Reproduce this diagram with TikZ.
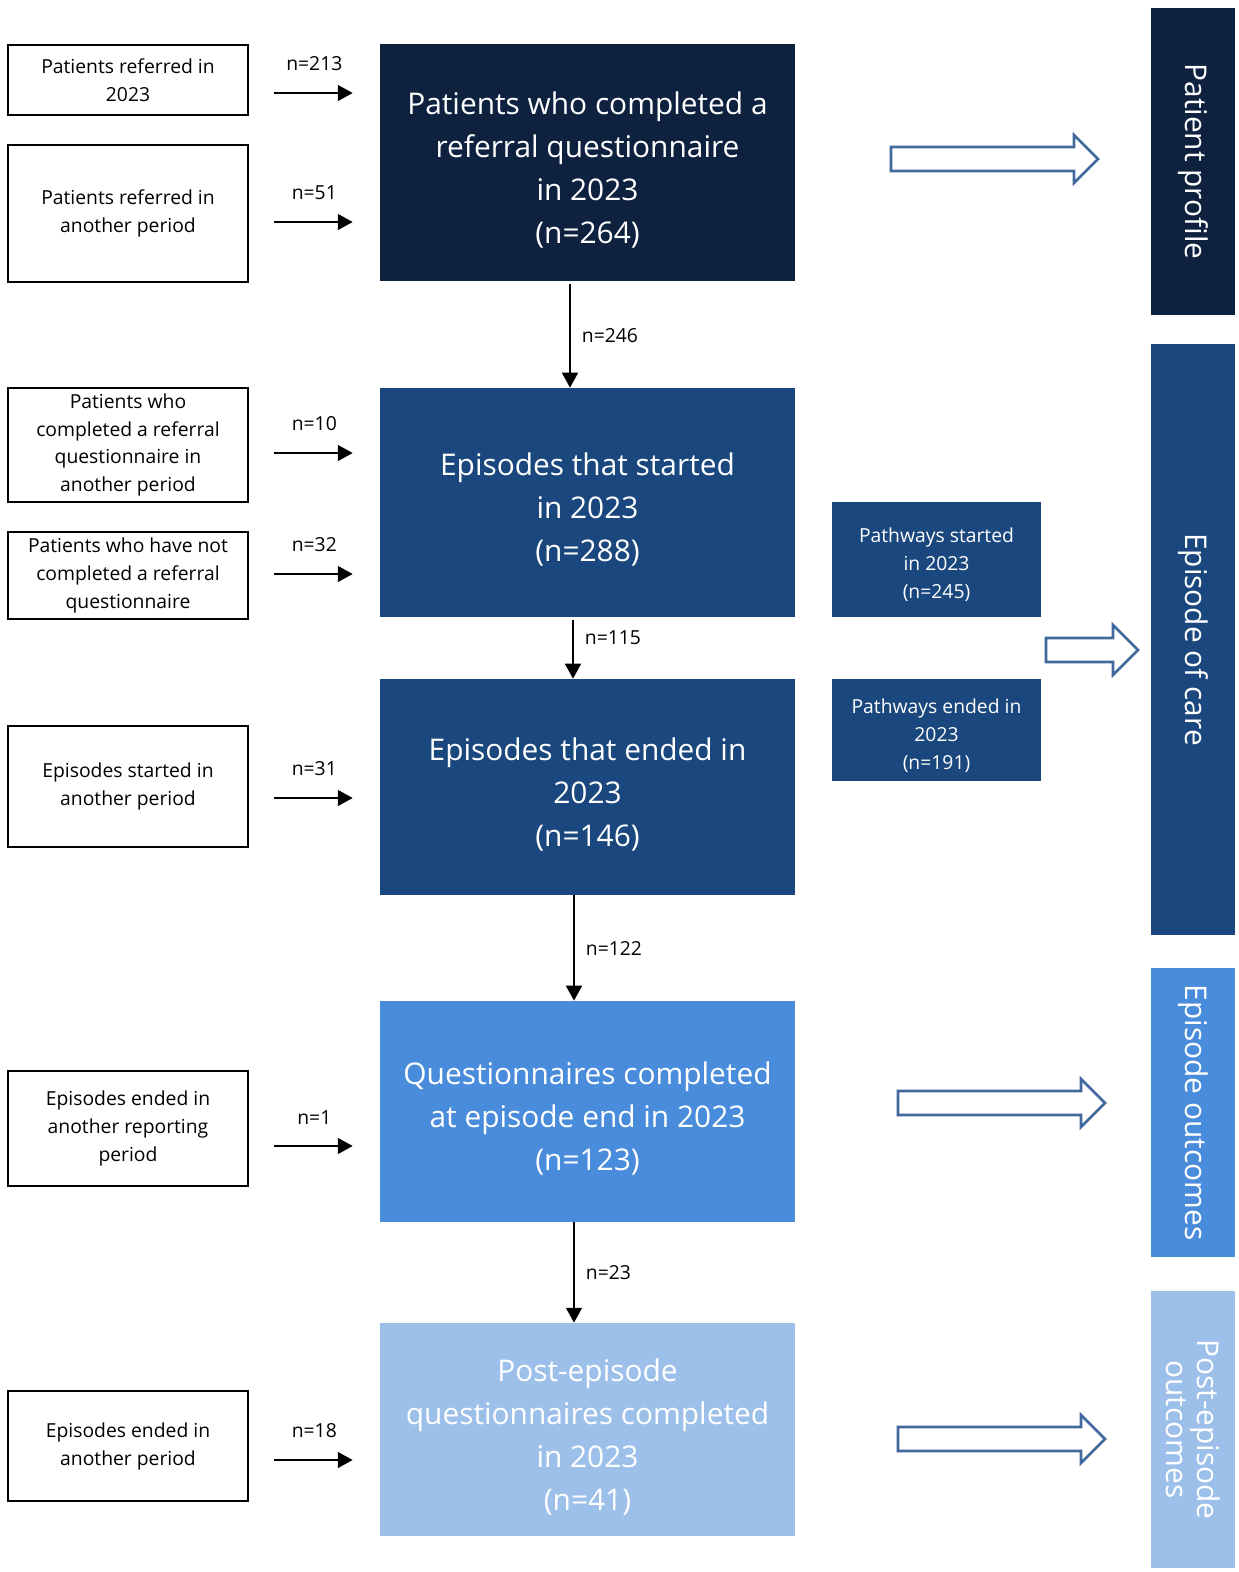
\documentclass[tikz,border=0pt]{standalone}
\usepackage{fontspec}
\setmainfont{Open Sans}
\usetikzlibrary{positioning, arrows.meta}

\definecolor{navy}{HTML}{0E2240}
\definecolor{midblue}{HTML}{1A477D}
\definecolor{brightblue}{HTML}{4A8CDC}
\definecolor{paleblue}{HTML}{9DC0EA}
\definecolor{outline}{HTML}{42699B}

\newcommand{\stagepad}{\rule{0pt}{18.5pt}}
\newcommand{\pathpad}{\rule{0pt}{13pt}}

\begin{document}
\begin{tikzpicture}[
    x=0.02cm, y=-0.02cm,
    src/.style={draw=black, line width=1.1pt, fill=white, rectangle, minimum width=4.8cm, align=center, font=\fontsize{11}{15.9}\selectfont},
    stage/.style={rectangle, minimum width=8.3cm, align=center, text=white, font=\fontsize{17}{24.4}\selectfont, text depth=0pt},
    pathbox/.style={rectangle, fill=midblue, minimum width=4.18cm, align=center, text=white, font=\fontsize{11}{15.9}\selectfont, text depth=0pt},
    band/.style={rectangle, rotate=-90, minimum height=1.68cm, align=center, text=white, font=\fontsize{17}{18}\selectfont},
    arr/.style={-{Triangle[length=8.5pt, width=9pt]}, line width=1.2pt},
    feed/.style={arr, shorten <=0.5cm, shorten >=0.54cm},
    cnt/.style={font=\fontsize{11}{13}\selectfont},
    hollow/.style={draw=outline, line width=1.5pt, fill=white, line join=miter}
]
    \useasboundingbox (0,0) rectangle (1238,1572);

    % sources on the left
    \node[src, minimum height=1.4cm] (in1) at (128,80) {Patients referred in\\2023};
    \node[src, minimum height=2.74cm] (in2) at (128,213.5) {Patients referred in\\another period};
    \node[src, minimum height=2.28cm] (in3) at (128,445) {Patients who\\completed a referral\\questionnaire in\\another period};
    \node[src, minimum height=1.7cm] (in4) at (128,575.5) {Patients who have not\\completed a referral\\questionnaire};
    \node[src, minimum height=2.42cm] (in5) at (128,786.5) {Episodes started in\\another period};
    \node[src, minimum height=2.3cm] (in6) at (128,1128.5) {Episodes ended in\\another reporting\\period};
    \node[src, minimum height=2.2cm] (in7) at (128,1446) {Episodes ended in\\another period};

    % main flow
    \node[stage, fill=navy, minimum height=4.74cm] (m1) at (587.5,162.5) {\stagepad Patients who completed a\\referral questionnaire\\in 2023\\(n=264)};
    \node[stage, fill=midblue, minimum height=4.58cm] (m2) at (587.5,502.5) {\stagepad Episodes that started\\in 2023\\(n=288)};
    \node[stage, fill=midblue, minimum height=4.32cm] (m3) at (587.5,787) {\stagepad Episodes that ended in\\2023\\(n=146)};
    \node[stage, fill=brightblue, minimum height=4.42cm] (m4) at (587.5,1111.5) {\stagepad Questionnaires completed\\at episode end in 2023\\(n=123)};
    \node[stage, fill=paleblue, minimum height=4.26cm] (m5) at (587.5,1429.5) {\stagepad Post-episode\\questionnaires completed\\in 2023\\(n=41)};

    % pathways
    \node[pathbox, minimum height=2.3cm] (p1) at (936.5,559.5) {\pathpad Pathways started\\in 2023\\(n=245)};
    \node[pathbox, minimum height=2.04cm] (p2) at (936.5,730) {\pathpad Pathways ended in\\2023\\(n=191)};

    % bands on the right
    \node[band, fill=navy, minimum width=6.14cm] (b1) at (1193,161.5) {Patient profile};
    \node[band, fill=midblue, minimum width=11.82cm] (b2) at (1193,639.5) {Episode of care};
    \node[band, fill=brightblue, minimum width=5.78cm] (b3) at (1193,1112.5) {Episode outcomes};
    \node[band, fill=paleblue, minimum width=5.54cm] (b4) at (1193,1429.5) {Post-episode\\outcomes};

    % inflows
    \draw[feed] ([yshift=-0.26cm]in1.east) -- ([yshift=-0.26cm]in1.east -| m1.west) node[cnt, midway, above=0.3cm] {n=213};
    \draw[feed] ([yshift=-0.17cm]in2.east) -- ([yshift=-0.17cm]in2.east -| m1.west) node[cnt, midway, above=0.3cm] {n=51};
    \draw[feed] ([yshift=-0.16cm]in3.east) -- ([yshift=-0.16cm]in3.east -| m2.west) node[cnt, midway, above=0.3cm] {n=10};
    \draw[feed] ([yshift=0.03cm]in4.east) -- ([yshift=0.03cm]in4.east -| m2.west) node[cnt, midway, above=0.3cm] {n=32};
    \draw[feed] ([yshift=-0.23cm]in5.east) -- ([yshift=-0.23cm]in5.east -| m3.west) node[cnt, midway, above=0.3cm] {n=31};
    \draw[feed] ([yshift=-0.35cm]in6.east) -- ([yshift=-0.35cm]in6.east -| m4.west) node[cnt, midway, above=0.3cm] {n=1};
    \draw[feed] ([yshift=-0.28cm]in7.east) -- ([yshift=-0.28cm]in7.east -| m5.west) node[cnt, midway, above=0.3cm] {n=18};

    % flow down
    \draw[arr] ([xshift=-0.35cm, yshift=-0.06cm]m1.south) -- ([xshift=-0.35cm]m2.north) node[cnt, midway, right=0.1cm] {n=246};
    \draw[arr] ([xshift=-0.29cm, yshift=-0.06cm]m2.south) -- ([xshift=-0.29cm]m3.north) node[cnt, pos=0.3, right=0.1cm] {n=115};
    \draw[arr] ([xshift=-0.27cm]m3.south) -- ([xshift=-0.27cm]m4.north) node[cnt, midway, right=0.1cm] {n=122};
    \draw[arr] ([xshift=-0.27cm]m4.south) -- ([xshift=-0.27cm]m5.north) node[cnt, midway, right=0.1cm] {n=23};

    % block arrows
    \draw[hollow] (891,147) -- (1074,147) -- (1074,135) -- (1098,159) -- (1074,183) -- (1074,171) -- (891,171) -- cycle;
    \draw[hollow] (1046,638) -- (1113,638) -- (1113,625) -- (1138,650) -- (1113,675) -- (1113,662) -- (1046,662) -- cycle;
    \draw[hollow] (898,1091) -- (1081,1091) -- (1081,1079) -- (1105,1103) -- (1081,1127) -- (1081,1115) -- (898,1115) -- cycle;
    \draw[hollow] (898,1427) -- (1081,1427) -- (1081,1415) -- (1105,1439) -- (1081,1463) -- (1081,1451) -- (898,1451) -- cycle;
\end{tikzpicture}
\end{document}
